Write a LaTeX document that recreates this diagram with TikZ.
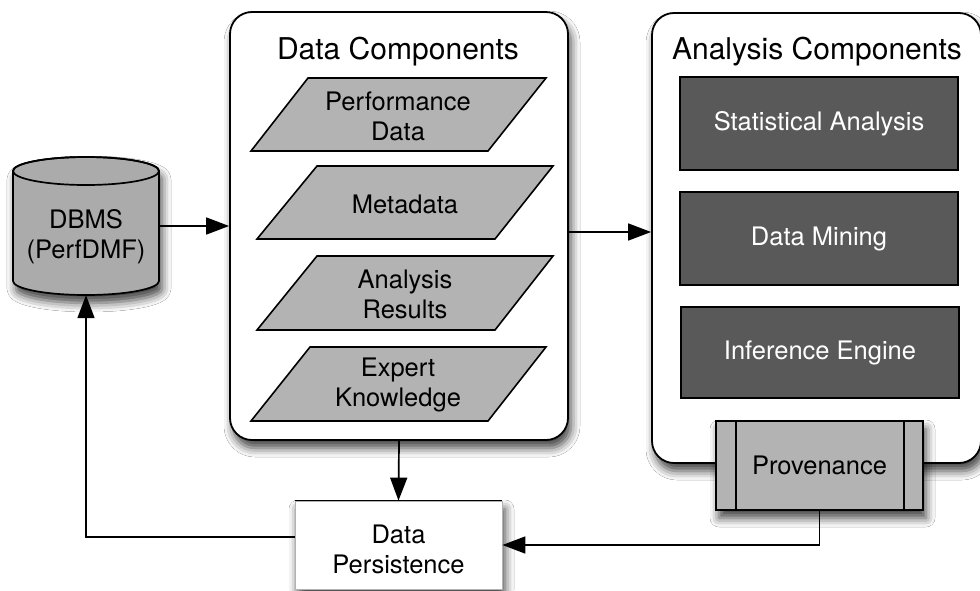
\documentclass[tikz,border=0pt]{standalone}
\usepackage{fontspec}
\setmainfont{TeX Gyre Heros}
\usetikzlibrary{arrows.meta,shadows.blur,calc}
\definecolor{lgray}{HTML}{B3B3B3}
\definecolor{cgray}{HTML}{ABABAB}
\definecolor{dgray}{HTML}{595959}
\begin{document}
\begin{tikzpicture}[x=1pt,y=-1pt,
  every node/.style={font=\fontsize{25.5}{30}\selectfont, align=center, inner sep=0pt},
  heading/.style={font=\fontsize{30}{34}\selectfont},
  arr/.style={draw=black, line width=1.7pt, -{Triangle[length=23pt,width=17pt,fill=black,color=black]}},
  shad/.style={blur shadow={shadow xshift=3pt,shadow yshift=-8pt,shadow blur radius=9pt,shadow opacity=75}},
  container/.style={draw, line width=1.8pt, fill=white, rounded corners=22pt, shad},
  para/.style={draw, line width=1.6pt, fill=lgray},
  darkbox/.style={draw, line width=1.6pt, fill=dgray, text=white, minimum width=278pt, minimum height=93pt},
  provbox/.style={draw, line width=1.6pt, fill=lgray, minimum width=207pt, minimum height=89pt, shad},
  dpbox/.style={fill=white, draw=black!30, line width=0.8pt, minimum width=207pt, minimum height=88pt, shad},
  dbmsbox/.style={minimum width=146pt, minimum height=138pt}
]
\useasboundingbox (0,0) rectangle (980,590);
\clip (0,0) rectangle (980,590);
\fill[white] (0,0) rectangle (980,590);

% DBMS cylinder
\path[fill=cgray, draw, line width=1.7pt, shad]
  (13,171) -- (13,281) arc[start angle=180,end angle=360,x radius=73pt,y radius=14pt]
  -- (159,171) arc[start angle=0,end angle=180,x radius=73pt,y radius=14pt] -- cycle;
\draw[line width=1.7pt] (86,171) ellipse[x radius=73pt, y radius=14pt];
\node[dbmsbox] (dbms) at (86,226) {};
\node (dbmstext) at (86,237) {DBMS\\(PerfDMF)};

% Data Components container
\node[container, minimum width=338pt, minimum height=428pt] (dc) at (399,226) {};
\node[heading] (dchead) at (398,52) {Data Components};
\draw[para] (308,78) -- (546,78) -- (488,151) -- (251,151) -- cycle;
\node (pd) at (398,116) {Performance\\Data};
\draw[para] (317,166) -- (553,166) -- (495,239) -- (257,239) -- cycle;
\node (md) at (405,204) {Metadata};
\draw[para] (317,256) -- (553,256) -- (495,330) -- (257,330) -- cycle;
\node (ar) at (405,294) {Analysis\\Results};
\draw[para] (310,347) -- (546,347) -- (488,421) -- (251,421) -- cycle;
\node (ek) at (398,385) {Expert\\Knowledge};

% Analysis Components container
\node[container, minimum width=329pt, minimum height=450pt] (ac) at (816.5,238) {};
\node[heading] (achead) at (817,52) {Analysis Components};
\node[darkbox] (sa) at (819,123.5) {Statistical Analysis};
\node[darkbox] (dm) at (819,238.5) {Data Mining};
\node[darkbox, minimum height=91pt] (ie) at (820,352.5) {Inference Engine};

% Provenance
\node[provbox] (prov) at (819.5,465.5) {Provenance};
\draw[line width=1.6pt] ($(prov.north west)+(21,0)$) -- ($(prov.south west)+(21,0)$);
\draw[line width=1.6pt] ($(prov.north east)+(-20,0)$) -- ($(prov.south east)+(-20,0)$);

% Data Persistence
\node[dpbox] (dp) at (398.5,545) {};
\draw[line width=1.7pt] (dp.north west) -- (dp.north east);
\node (dptext) at (398.5,549) {Data\\Persistence};

% connectors
\draw[arr] (dbms.east) -- (dc.west);
\draw[arr] (dc.east) ++(0,6) coordinate (a1) -- (a1 -| ac.west);
\draw[arr] (dc.south) -- (dp.north);
\draw[arr] (prov.south) |- (dp.east);
\draw[arr] (dp.west) ++(0,-8) coordinate (b1) -| (dbms.south);
\end{tikzpicture}
\end{document}
